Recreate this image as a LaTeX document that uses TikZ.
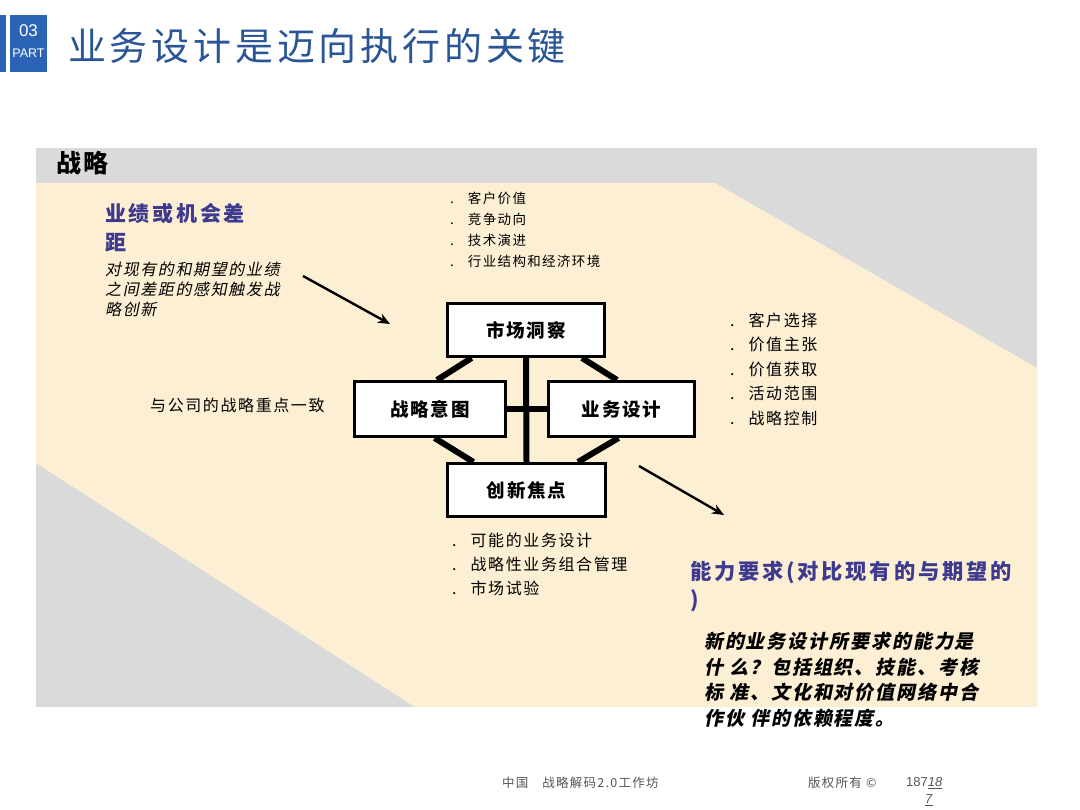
\documentclass[tikz,border=0pt]{standalone}
\usepackage{fontspec}
\usetikzlibrary{arrows.meta,calc}
\setmainfont{Noto Sans CJK SC}
\newfontfamily\cjk{Noto Sans CJK SC}[LetterSpace=10]
\newfontfamily\cjkw{Noto Sans CJK SC}[LetterSpace=13]
\newfontfamily\cjkit{Noto Sans CJK SC}[LetterSpace=10,FakeSlant=0.2]
\newfontfamily\latn{Liberation Sans}
\definecolor{hdrgray}{HTML}{DADADA}
\definecolor{beige}{HTML}{FDEFD3}
\definecolor{purp}{HTML}{3D3A8F}
\definecolor{ttlblue}{HTML}{2A5597}
\definecolor{partblue}{HTML}{2B64B4}
\definecolor{foot}{HTML}{555555}
\pgfdeclarelayer{back}
\pgfdeclarelayer{bars}
\pgfsetlayers{back,bars,main}
\tikzset{
  box/.style={draw=black,line width=3pt,fill=white,inner sep=0pt,font=\cjk\bfseries\fontsize{18.5}{20}\selectfont},
  bar/.style={line width=6pt,black},
  txt/.style={inner sep=0pt,anchor=west,align=left},
  arr/.style={line width=2.4pt,-{Stealth[length=12pt,width=10pt]}},
}
\begin{document}
\begin{tikzpicture}[x=1pt,y=-1pt]
\useasboundingbox (0,0) rectangle (1080,810);
\begin{pgfonlayer}{back}
\fill[white] (0,0) rectangle (1080,810);
% title block
\fill[partblue] (0,15) rectangle (6,72);
\fill[partblue] (10,15) rectangle (47,72);
% background panel
\fill[hdrgray] (36,148) rectangle (1037,707);
\fill[beige] (36,183) -- (715,183) -- (1037,368) -- (1037,707) -- (415,707) -- (36,463) -- cycle;
\end{pgfonlayer}
\node[inner sep=0pt,text=white,font=\latn\fontsize{17}{17}\selectfont] (n03) at (28.5,31) {03};
\node[inner sep=0pt,text=white,font=\latn\fontsize{12.5}{12.5}\selectfont] (npart) at (28.5,53) {PART};
\node[txt,text=ttlblue,font=\cjk\fontsize{38}{40}\selectfont] (title) at (68,46) {业务设计是迈向执行的关键};
\node[txt,font=\cjk\bfseries\fontsize{25}{26}\selectfont] (zl) at (56,163) {战略};
% left texts
\node[txt,text=purp,font=\cjkw\bfseries\fontsize{21}{29}\selectfont] (gap) at (105,228) {业绩或机会差\\距};
\node[txt,font=\cjkit\fontsize{16}{20}\selectfont] (gapd) at (105,289) {对现有的和期望的业绩\\之间差距的感知触发战\\略创新};
\node[txt,font=\cjk\fontsize{16}{18}\selectfont] (align) at (150,405) {与公司的战略重点一致};
% top bullets
\node[txt,font=\cjk\fontsize{13.5}{21}\selectfont] (tb) at (450,229.5) {.\hspace{14pt}客户价值\\.\hspace{14pt}竞争动向\\.\hspace{14pt}技术演进\\.\hspace{14pt}行业结构和经济环境};
% right bullets
\node[txt,font=\cjk\fontsize{16}{24.5}\selectfont] (rb) at (730,369) {.\hspace{14pt}客户选择\\.\hspace{14pt}价值主张\\.\hspace{14pt}价值获取\\.\hspace{14pt}活动范围\\.\hspace{14pt}战略控制};
% bottom bullets
\node[txt,font=\cjk\fontsize{16}{24}\selectfont] (bb) at (452,564) {.\hspace{14pt}可能的业务设计\\.\hspace{14pt}战略性业务组合管理\\.\hspace{14pt}市场试验};
% capability texts
\node[txt,text=purp,font=\cjkw\bfseries\fontsize{21.3}{28}\selectfont] (cap) at (690,587) {能力要求(对比现有的与期望的\\)};
\node[txt,font=\cjkit\bfseries\fontsize{19}{25.5}\selectfont] (capd) at (704,680) {新的业务设计所要求的能力是\\什\ 么？包括组织、技能、考核\\标\ 准、文化和对价值网络中合\\作伙\ 伴的依赖程度。};
% boxes
\node[box,minimum width=157pt,minimum height=53pt] (mkt) at (526,330) {市场洞察};
\node[box,minimum width=151pt,minimum height=55pt] (si) at (430,409) {战略意图};
\node[box,minimum width=146pt,minimum height=55pt] (bd) at (621.5,409) {业务设计};
\node[box,minimum width=158pt,minimum height=53pt] (inn) at (526.5,490) {创新焦点};
% bars behind boxes
\begin{pgfonlayer}{bars}
\draw[bar] (mkt.south) -- (inn.north);
\draw[bar] (si.east) -- (bd.west);
\draw[bar] ($(mkt.south west)!0.16!(mkt.south east)$) -- ($(si.north west)!0.545!(si.north east)$);
\draw[bar] ($(mkt.south west)!0.85!(mkt.south east)$) -- ($(bd.north west)!0.47!(bd.north east)$);
\draw[bar] ($(si.south west)!0.53!(si.south east)$) -- ($(inn.north west)!0.17!(inn.north east)$);
\draw[bar] ($(bd.south west)!0.48!(bd.south east)$) -- ($(inn.north west)!0.82!(inn.north east)$);
\end{pgfonlayer}
% arrows
\coordinate (a1s) at (303,276);
\coordinate (a1e) at (390,324);
\coordinate (a2s) at (639,466);
\coordinate (a2e) at (724,515);
\draw[arr] (a1s) -- (a1e);
\draw[arr] (a2s) -- (a2e);
% footer
\node[txt,text=foot,font=\cjk\fontsize{12.5}{14}\selectfont] (f1) at (502,783) {中国\hspace{14pt}战略解码2.0工作坊};
\node[txt,text=foot,font=\cjk\fontsize{12.5}{14}\selectfont] (f2) at (808,783) {版权所有 ©};
\node[txt,text=foot,font=\latn\fontsize{13}{14}\selectfont] (f3) at (906,783) {187\underline{\textit{18}}};
\node[txt,text=foot,font=\latn\fontsize{13}{14}\selectfont] (f4) at (925,800) {\underline{\textit{7}}};
\end{tikzpicture}
\end{document}
